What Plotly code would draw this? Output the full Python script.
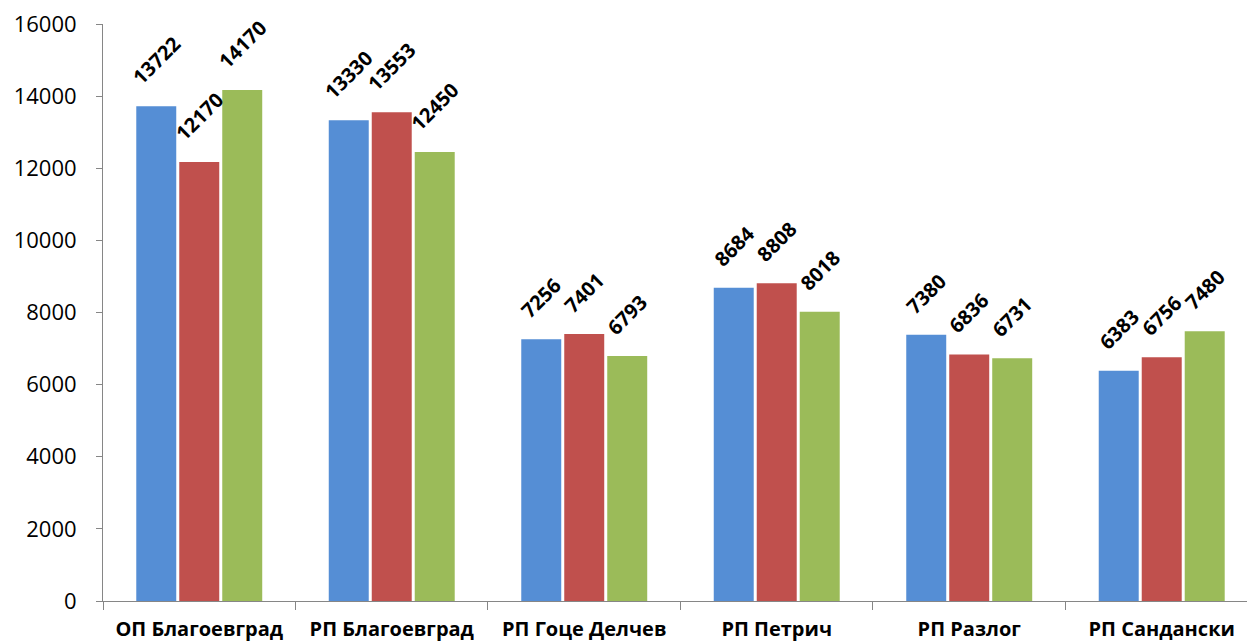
import plotly.graph_objects as go

categories = ["ОП Благоевград", "РП Благоевград", "РП Гоце Делчев", "РП Петрич", "РП Разлог", "РП Сандански"]
series_1 = [13722, 13330, 7256, 8684, 7380, 6383]
series_2 = [12170, 13553, 7401, 8808, 6836, 6756]
series_3 = [14170, 12450, 6793, 8018, 6731, 7480]
y_ticks = [0, 2000, 4000, 6000, 8000, 10000, 12000, 14000, 16000]

colors = ["#558ED5", "#C0504D", "#9BBB59"]
xpos = list(range(len(categories)))
bargap = 0.33
all_series = [series_1, series_2, series_3]
slot = (1 - bargap) / len(all_series)

fig = go.Figure()
for vals, col in zip(all_series, colors):
    fig.add_trace(go.Bar(
        x=xpos, y=vals, marker=dict(color=col, line=dict(width=0)),
        showlegend=False, hoverinfo="y",
    ))

# rotated data labels
for i, vals in enumerate(all_series):
    off = (i - (len(all_series) - 1) / 2) * slot
    for j, v in enumerate(vals):
        fig.add_annotation(
            x=j + off, y=v, xref="x", yref="y", text=str(v), showarrow=False,
            textangle=-45, xanchor="center", yanchor="bottom", yshift=13,
            font=dict(family="Open Sans", size=20, color="black", weight="bold"),
        )

fig.update_layout(
    width=1247, height=641,
    margin=dict(l=103, r=0, t=24, b=40),
    plot_bgcolor="white", paper_bgcolor="white",
    barmode="group", bargap=bargap, bargroupgap=0.07,
    font=dict(family="Open Sans", color="black"),
    xaxis=dict(
        range=[-0.5, 5.443], tickvals=xpos, ticktext=categories,
        showgrid=False, zeroline=False, showline=True, linecolor="#868686", linewidth=1,
        ticks="", tickfont=dict(family="Open Sans", size=20, color="black", weight="bold"),
        minor=dict(tickvals=[-0.5, 0.5, 1.5, 2.5, 3.5, 4.5], ticks="outside", ticklen=8,
                   tickcolor="#868686", tickwidth=1, showgrid=False),
        ticklabelstandoff=10, automargin=False,
    ),
    yaxis=dict(
        range=[0, 16000], tickvals=y_ticks, ticktext=[str(t) for t in y_ticks],
        showgrid=False, zeroline=False,
        showline=True, linecolor="#868686", linewidth=1,
        ticks="outside", ticklen=6, tickcolor="#868686",
        tickfont=dict(family="Open Sans", size=22, color="black"),
        ticklabelstandoff=15, automargin=False,
    ),
)

fig.write_html("out.html", config={"displayModeBar": False},
               post_script="document.body.style.margin='0';document.body.style.overflow='hidden';")
